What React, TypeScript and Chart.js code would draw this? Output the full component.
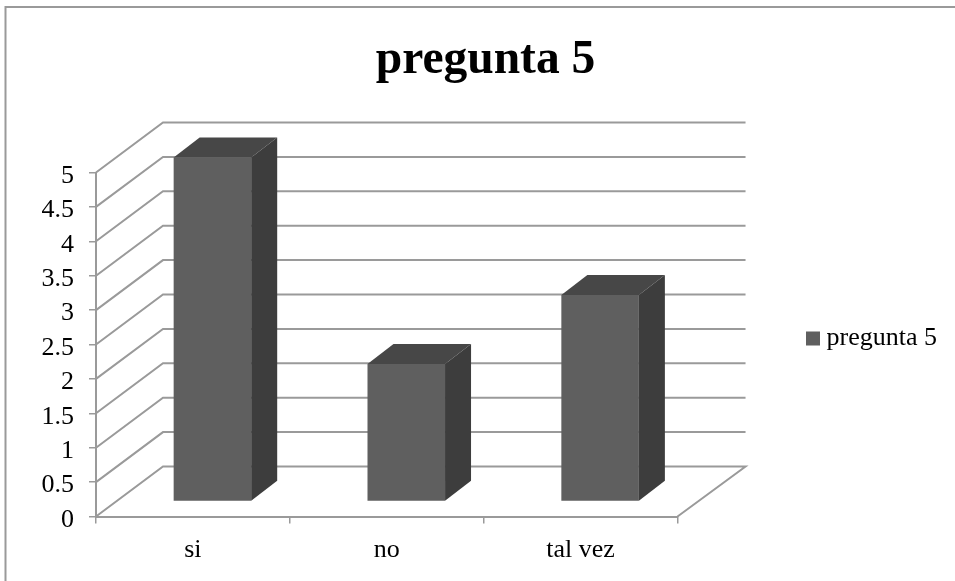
import React, { useEffect, useRef } from "react";
import { Chart, registerables } from "chart.js";

Chart.register(...registerables);

const categories = ["si", "no", "tal vez"];
const seriesName = "pregunta 5";
const seriesValues = [5, 2, 3];
const axisMax = 5;
const axisStep = 0.5;

const SERIF = "'Liberation Serif', 'Times New Roman', serif";
const RULE = "#9a9a9a";
const FRONT = "#5f5f5f";
const TOP = "#474747";
const SIDE = "#3d3d3d";

// Projection of the 3D box: how far the back wall and the bars sit from the axis plane.
const WALL_DX = 67;
const WALL_DY = -50;
const BAR_DX = 19.5;
const BAR_DY = -15;
const BAR_DEPTH_X = 26;
const BAR_DEPTH_Y = -20;

const framePlugin = {
  id: "frame",
  beforeDraw(chart: any) {
    const { ctx, width, height } = chart;
    ctx.save();
    ctx.strokeStyle = RULE;
    ctx.lineWidth = 2;
    ctx.beginPath();
    ctx.moveTo(5.5, height);
    ctx.lineTo(5.5, 7);
    ctx.lineTo(width, 7);
    ctx.stroke();
    ctx.restore();
  },
};

// The title centres on the whole frame and the legend sits to the right of the back wall.
const boxPlacement = {
  id: "boxPlacement",
  afterLayout(chart: any) {
    const { legend, titleBlock } = chart;
    legend.left = 802.5;
    legend.right = 955;
    legend.top += 48;
    legend.bottom += 48;
    titleBlock.left = 0;
    titleBlock.right = 971;
  },
};

const wallPlugin = {
  id: "wall",
  beforeDatasetsDraw(chart: any) {
    const { ctx, chartArea, scales } = chart;
    const { left, right } = chartArea;
    ctx.save();
    ctx.strokeStyle = RULE;
    ctx.lineWidth = 2;
    ctx.lineJoin = "miter";
    scales.y.ticks.forEach((tick: any) => {
      const y = scales.y.getPixelForValue(tick.value);
      ctx.beginPath();
      ctx.moveTo(left, y);
      ctx.lineTo(left + WALL_DX, y + WALL_DY);
      ctx.lineTo(right + WALL_DX + 1, y + WALL_DY);
      if (tick.value === 0) ctx.lineTo(right, y);
      ctx.stroke();
    });
    ctx.restore();
  },
};

const boxBars = {
  id: "boxBars",
  beforeDatasetDraw(chart: any) {
    chart.ctx.save();
    chart.ctx.translate(BAR_DX, BAR_DY);
  },
  afterDatasetDraw(chart: any, args: any) {
    const { ctx } = chart;
    args.meta.data.forEach((bar: any) => {
      const l = bar.x - bar.width / 2;
      const r = bar.x + bar.width / 2;
      const t = bar.y;
      const b = bar.base;
      ctx.fillStyle = TOP;
      ctx.beginPath();
      ctx.moveTo(l, t);
      ctx.lineTo(l + BAR_DEPTH_X, t + BAR_DEPTH_Y);
      ctx.lineTo(r + BAR_DEPTH_X, t + BAR_DEPTH_Y);
      ctx.lineTo(r, t);
      ctx.closePath();
      ctx.fill();
      ctx.fillStyle = SIDE;
      ctx.beginPath();
      ctx.moveTo(r, t);
      ctx.lineTo(r + BAR_DEPTH_X, t + BAR_DEPTH_Y);
      ctx.lineTo(r + BAR_DEPTH_X, b + BAR_DEPTH_Y);
      ctx.lineTo(r, b);
      ctx.closePath();
      ctx.fill();
    });
    ctx.restore();
  },
};

// Value labels sit slightly below their tick marks.
function lowerLabels(axis: any) {
  if (axis.labelsLowered) return;
  axis.labelsLowered = true;
  const draw = axis.drawLabels.bind(axis);
  axis.drawLabels = (area: any) => {
    axis.ctx.save();
    axis.ctx.translate(0, 3.5);
    draw(area);
    axis.ctx.restore();
  };
}

export default function App() {
  const canvasRef = useRef<HTMLCanvasElement>(null);

  useEffect(() => {
    const chart = new Chart(canvasRef.current as HTMLCanvasElement, {
      type: "bar",
      data: {
        labels: categories,
        datasets: [
          {
            label: seriesName,
            data: seriesValues,
            backgroundColor: FRONT,
            borderWidth: 0,
            barPercentage: 0.4,
            categoryPercentage: 1,
            clip: false,
          } as any,
        ],
      },
      options: {
        responsive: false,
        animation: false,
        layout: { padding: { left: 0, right: 133, top: 0, bottom: 0 } },
        plugins: {
          title: {
            display: true,
            text: seriesName,
            color: "#000",
            font: { family: SERIF, size: 47.5, weight: "bold" },
            padding: { top: 32, bottom: 83.5 },
          },
          legend: {
            display: true,
            position: "right",
            labels: {
              color: "#000",
              font: { family: SERIF, size: 26 },
              usePointStyle: true,
              pointStyle: "rect",
              boxWidth: 1,
              boxHeight: 14,
              padding: 10,
            },
          },
          tooltip: { enabled: false },
        },
        scales: {
          x: {
            afterFit(axis: any) {
              axis.height = 64.5;
            },
            border: { color: RULE, width: 2 },
            grid: { drawOnChartArea: false, drawTicks: true, tickLength: 7, color: RULE, lineWidth: 1.5 },
            ticks: { color: "#000", font: { family: SERIF, size: 26 }, padding: 11, maxRotation: 0 },
          },
          y: {
            min: 0,
            max: axisMax,
            afterFit(axis: any) {
              axis.width = 96;
            },
            afterUpdate: lowerLabels,
            border: { color: RULE, width: 2 },
            grid: { drawOnChartArea: false, drawTicks: true, tickLength: 7, color: RULE, lineWidth: 1.5 },
            ticks: {
              stepSize: axisStep,
              color: "#000",
              font: { family: SERIF, size: 26 },
              padding: 15,
              callback: (value: any) => String(value),
            },
          },
        },
      },
      plugins: [framePlugin, boxPlacement, wallPlugin, boxBars],
    } as any);
    return () => chart.destroy();
  }, []);

  return (
    <div style={{ position: "absolute", left: 0, top: 0, width: 955, height: 581, background: "#fff" }}>
      <canvas ref={canvasRef} width={955} height={581} style={{ display: "block" }} />
    </div>
  );
}
